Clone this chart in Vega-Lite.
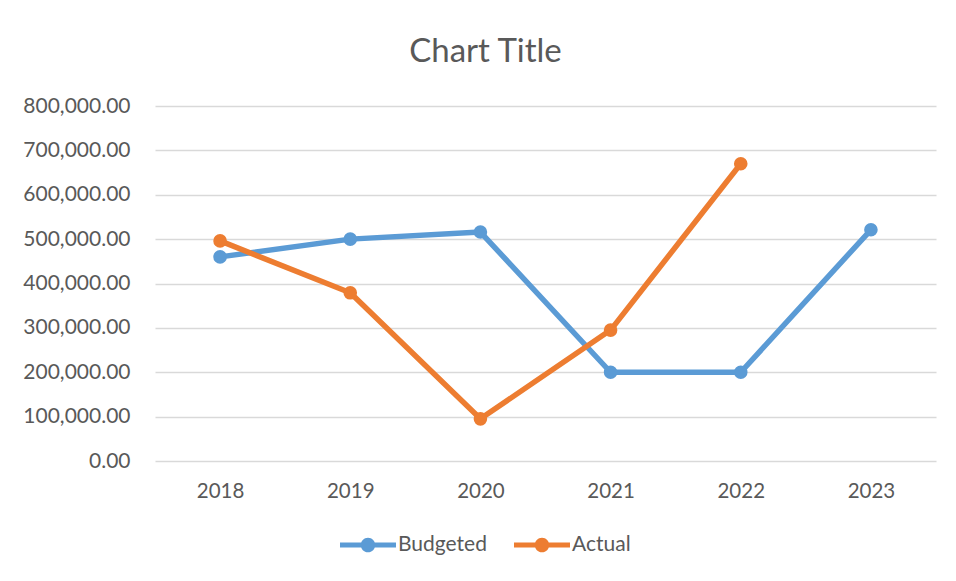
{
  "$schema": "https://vega.github.io/schema/vega-lite/v6.json",
  "width": 781,
  "height": 355,
  "autosize": "none",
  "padding": {"left": 155, "top": 106, "right": 20, "bottom": 120},
  "background": "white",
  "title": {
    "text": "Chart Title",
    "font": "Lato",
    "fontSize": 33,
    "fontWeight": "normal",
    "color": "#595959",
    "anchor": "middle",
    "frame": "group",
    "dx": -60,
    "offset": 26
  },
  "config": {
    "view": {"stroke": null},
    "font": "Lato"
  },
  "data": {
    "values": [
      {"year": "2018", "series": "Budgeted", "value": 460000},
      {"year": "2019", "series": "Budgeted", "value": 500000},
      {"year": "2020", "series": "Budgeted", "value": 516000},
      {"year": "2021", "series": "Budgeted", "value": 200000},
      {"year": "2022", "series": "Budgeted", "value": 200000},
      {"year": "2023", "series": "Budgeted", "value": 521000},
      {"year": "2018", "series": "Actual", "value": 496000},
      {"year": "2019", "series": "Actual", "value": 379000},
      {"year": "2020", "series": "Actual", "value": 95000},
      {"year": "2021", "series": "Actual", "value": 295000},
      {"year": "2022", "series": "Actual", "value": 670000}
    ]
  },
  "encoding": {
    "x": {
      "field": "year",
      "type": "ordinal",
      "sort": ["2018", "2019", "2020", "2021", "2022", "2023"],
      "scale": {"type": "point", "padding": 0.5},
      "axis": {
        "title": null,
        "labelAngle": 0,
        "labelFont": "Lato",
        "labelFontSize": 20.5,
        "labelColor": "#595959",
        "labelPadding": 20,
        "ticks": false,
        "domain": false,
        "grid": false
      }
    },
    "y": {
      "field": "value",
      "type": "quantitative",
      "scale": {"domain": [0, 800000], "nice": false},
      "axis": {
        "title": null,
        "values": [0, 100000, 200000, 300000, 400000, 500000, 600000, 700000, 800000],
        "format": ",.2f",
        "labelFont": "Lato",
        "labelFontSize": 21,
        "labelColor": "#595959",
        "labelPadding": 25,
        "ticks": false,
        "domain": false,
        "grid": true,
        "gridColor": "#D9D9D9",
        "gridWidth": 1.3
      }
    },
    "color": {
      "field": "series",
      "type": "nominal",
      "sort": ["Budgeted", "Actual"],
      "scale": {"domain": ["Budgeted", "Actual"], "range": ["#5B9BD5", "#ED7D31"]},
      "legend": {
        "title": null,
        "orient": "none",
        "direction": "horizontal",
        "legendX": 185,
        "legendY": 411,
        "symbolType": "M-1,-0.09L1,-0.09L1,0.09L-1,0.09Z M0.26,0A0.26,0.26,0,1,1,-0.26,0A0.26,0.26,0,1,1,0.26,0Z",
        "symbolSize": 3136,
        "symbolStrokeWidth": 0,
        "symbolOpacity": 1,
        "labelFont": "Lato",
        "labelFontSize": 21,
        "labelColor": "#595959",
        "labelOffset": 2,
        "columnPadding": 27,
        "encode": {
          "symbols": {"update": {"fill": {"scale": "color", "field": "value"}, "strokeWidth": {"value": 0}}}
        }
      }
    }
  },
  "layer": [
    {"mark": {"type": "line", "strokeWidth": 5.5, "strokeCap": "round", "strokeJoin": "round"}},
    {"mark": {"type": "point", "filled": true, "size": 185, "opacity": 1, "shape": "circle"}}
  ]
}
